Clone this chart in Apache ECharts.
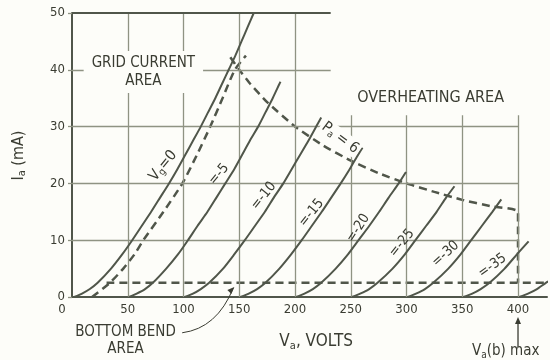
<!DOCTYPE html>
<html><head><meta charset="utf-8">
<script src="https://cdn.jsdelivr.net/npm/echarts@6/dist/echarts.min.js"></script>
<style>html,body{margin:0;padding:0;background:#fdfdf9;}#c{width:550px;height:360px;}</style>
</head><body><div id="c"></div>
<script>
// ---- data (Va in volts, Ia in mA) ----
const xTicks = [0, 50, 100, 150, 200, 250, 300, 350, 400];
const yTicks = [0, 10, 20, 30, 40, 50];
const vg0  = [[2,0],[9,0.6],[16,1.4],[23,2.5],[35,5],[45,7.5],[54,10],[62.5,12.5],[71,15],[79,17.5],[87,20],[94.5,22.5],[101.5,25],[108.5,27.5],[115.5,30],[122,32.5],[128.5,35],[134.5,37.5],[140.5,40],[146.5,42.5],[152,45],[157.5,47.5],[163,50]];
const vg5  = [[51,0],[58,0.6],[65.5,1.4],[72.5,2.5],[84.5,5],[95,7.5],[104,10],[112.5,12.5],[121.5,15],[129.5,17.5],[137.5,20],[145.5,22.5],[152.5,25],[159.5,27.5],[167,30],[173.5,32.5],[180,35],[186,37.5],[187,37.9]];
const vg10 = [[101,0],[108.5,0.6],[115.5,1.4],[123,2.5],[135.5,5],[145.5,7.5],[155,10],[164,12.5],[173,15],[181,17.5],[189.5,20],[197,22.5],[204.5,25],[212,27.5],[219,30],[223.5,31.6]];
const vg15 = [[151,0],[158.5,0.6],[166,1.4],[173.5,2.5],[186,5],[196.5,7.5],[206,10],[215,12.5],[224,15],[232.5,17.5],[241,20],[249,22.5],[256.5,25],[260.5,26.3]];
const vg20 = [[201,0],[208.5,0.6],[216,1.4],[223.5,2.5],[236.5,5],[247.5,7.5],[257,10],[266.5,12.5],[275.5,15],[284,17.5],[293,20],[299.5,22]];
const vg25 = [[251,0],[258.5,0.6],[266.5,1.4],[274,2.5],[287.5,5],[298.5,7.5],[308,10],[317.5,12.5],[327,15],[335.5,17.5],[343,19.5]];
const vg30 = [[301,0],[308.5,0.6],[316.5,1.4],[324,2.5],[337.5,5],[348.5,7.5],[358,10],[367.5,12.5],[377,15],[385,17.2]];
const vg35 = [[351,0],[359,0.6],[366.5,1.4],[374.5,2.5],[388,5],[399,7.5],[409.5,9.8]];
const vg40 = [[401,0],[409,0.6],[417,1.4],[425,2.5],[428,2.8]];
const gridCurrentEdge = [[18,0],[34,2.5],[46,5],[56,7.5],[64,10],[82,15],[99,20],[112,25],[124,30],[135,35],[146,40],[156,42.5]];
const paCurve = [[142,42.2],[150,40],[160,37.5],[175,34.3],[200,30],[225,26.7],[250,24],[275,21.8],[300,20],[325,18.5],[350,17.1],[375,16],[400,15],[400,2.5]];
const bottomBend = [[31,2.5],[426,2.5]];
const curveNames = ['Vg=0','=-5','=-10','=-15','=-20','=-25','=-30','=-35'];
// grid structure
const vGridFull = [50, 100, 150, 200];
const vGridShort = [250, 300, 350, 400];
const vShortTop = 32;
const hGridLong = [10, 20, 30];
const hGridShort = [40];
const hShortEnd = 232;

const INK = '#50564a', GRIDC = '#8f9383', TXT = '#3a3c32', BG = '#fdfdf9';
const FONT = '"DejaVu Sans Condensed","DejaVu Sans",sans-serif';

const chart = echarts.init(document.getElementById('c'), null, {renderer: 'canvas'});
function seg(a, b, ls) { const s = {coord: a}; if (ls) s.lineStyle = ls; return [s, {coord: b}]; }
const gridLines = [];
vGridFull.forEach(v => gridLines.push(seg([v, 0], [v, 50])));
vGridShort.forEach(v => gridLines.push(seg([v, 0], [v, vShortTop])));
hGridLong.forEach(h => gridLines.push(seg([0, h], [400, h])));
hGridShort.forEach(h => gridLines.push(seg([0, h], [hShortEnd, h])));
gridLines.push(seg([0, 50], [hShortEnd, 50], {color: INK, width: 2}));

const curves = [vg0, vg5, vg10, vg15, vg20, vg25, vg30, vg35, vg40];
const series = [{
  type: 'line', data: [[0, 0]], symbol: 'none', lineStyle: {width: 0}, z: 1,
  markLine: {silent: true, symbol: ['none', 'none'], animation: false,
    lineStyle: {color: GRIDC, width: 1.3, type: 'solid'}, label: {show: false}, data: gridLines}
}];
curves.forEach(d => series.push({type: 'line', data: d, smooth: 0.2, symbol: 'none', z: 5,
  lineStyle: {color: INK, width: 2}}));
[gridCurrentEdge, paCurve, bottomBend].forEach(d => series.push({type: 'line', data: d, smooth: d === paCurve ? 0.15 : 0.2,
  symbol: 'none', z: 4, lineStyle: {color: INK, width: 2.5, type: [8, 5]}}));

chart.setOption({
  animation: false,
  backgroundColor: BG,
  grid: {left: 72, right: 0, top: 13, bottom: 63},
  xAxis: {type: 'value', min: 0, max: 426, interval: 50,
    axisLine: {show: true, lineStyle: {color: INK, width: 2}}, axisTick: {show: false}, splitLine: {show: false},
    axisLabel: {margin: 6, color: TXT, fontSize: 13, fontFamily: FONT, showMaxLabel: true,
      formatter: v => xTicks.indexOf(v) < 0 ? '' : (v === 0 ? '{z|0}' : String(v)),
      rich: {z: {padding: [0, 20, 0, 0], fontSize: 13, fontFamily: FONT, color: TXT}}}},
  yAxis: {type: 'value', min: 0, max: 50, interval: 10,
    axisLine: {show: true, lineStyle: {color: INK, width: 2}},
    axisTick: {show: true, length: 4, lineStyle: {color: GRIDC, width: 1.3}}, splitLine: {show: false},
    axisLabel: {margin: 7, color: TXT, fontSize: 13, fontFamily: FONT,
      formatter: v => yTicks.indexOf(v) < 0 ? '' : String(v)}},
  series: series
});

function P(v, i) { return chart.convertToPixel({gridIndex: 0}, [v, i]); }
const g = [];
function sub(big, small) {
  return {a: {fontSize: big, fontFamily: FONT, fill: TXT}, b: {fontSize: small, fontFamily: FONT, fill: TXT, padding: [Math.round(big * 0.45), 0, 0, 0]}};
}
function txt(v, i, text, opt) {
  const p = P(v, i);
  opt = opt || {};
  g.push({type: 'text', x: p[0], y: p[1], rotation: (opt.rot || 0) * Math.PI / 180, z: 100,
    style: Object.assign({text: text, fill: TXT, font: (opt.size || 13) + 'px ' + FONT,
      align: 'center', verticalAlign: 'middle'}, opt.style || {})});
}
// curve labels
const lab = [[81.8,23.1,51],[131.8,21.6,50],[171.9,17.8,51],[214.7,14.8,51],[256.6,12.1,57],[295.8,9.5,51],[335,7.6,42],[377,5.5,36]];
lab.forEach((l, k) => {
  if (k === 0) {
    txt(l[0], l[1], '{a|V}{b|g}{a|=0}', {rot: l[2], style: {rich: sub(15, 10)}});
  } else {
    txt(l[0], l[1], curveNames[k], {rot: l[2], size: 14});
  }
});
txt(240.5, 28.0, '{a|P}{b|a}{a| = 6}', {rot: -37, style: {backgroundColor: BG, padding: [0, 2], rich: sub(15, 10)}});
txt(64, 39.6, 'GRID CURRENT\nAREA', {size: 15, style: {backgroundColor: BG, padding: [3, 8], lineHeight: 18}});
txt(321.6, 35.0, 'OVERHEATING AREA', {size: 16, style: {backgroundColor: BG, padding: [2, 4]}});
txt(48, -7.6, 'BOTTOM BEND\nAREA', {size: 15, style: {lineHeight: 17}});
txt(219, -7.9, '{a|V}{b|a}{a|, VOLTS}', {style: {rich: sub(17, 11)}});
txt(389, -9.6, '{a|V}{b|a}{a|(b) max}', {style: {rich: sub(15, 10)}});
// y title
const yt = P(-48, 24.9);
g.push({type: 'text', x: yt[0], y: yt[1], rotation: Math.PI / 2, z: 100,
  style: {text: '{a|I}{b|a}{a| (mA)}', align: 'center', verticalAlign: 'middle', rich: sub(16, 11)}});
// arrows
const a0 = P(98.8, -6.3), a1 = P(144.7, 1.6), ac = P(130, -5.5);
g.push({type: 'bezierCurve', z: 100, shape: {x1: a0[0], y1: a0[1], x2: a1[0], y2: a1[1], cpx1: ac[0], cpy1: ac[1]},
  style: {stroke: TXT, lineWidth: 1, fill: null}});
g.push({type: 'polygon', z: 100, shape: {points: [[a1[0] + 1, a1[1] - 1], [a1[0] - 6, a1[1] + 2], [a1[0] - 2, a1[1] + 6]]}, style: {fill: TXT}});
const b0 = P(400, -8.8), b1 = P(400, -3.5);
g.push({type: 'line', z: 100, shape: {x1: b0[0], y1: b0[1], x2: b1[0], y2: b1[1] + 4}, style: {stroke: TXT, lineWidth: 1.3}});
g.push({type: 'polygon', z: 100, shape: {points: [[b1[0], b1[1]], [b1[0] - 3, b1[1] + 7], [b1[0] + 3, b1[1] + 7]]}, style: {fill: TXT}});
chart.setOption({graphic: g});
</script></body></html>
